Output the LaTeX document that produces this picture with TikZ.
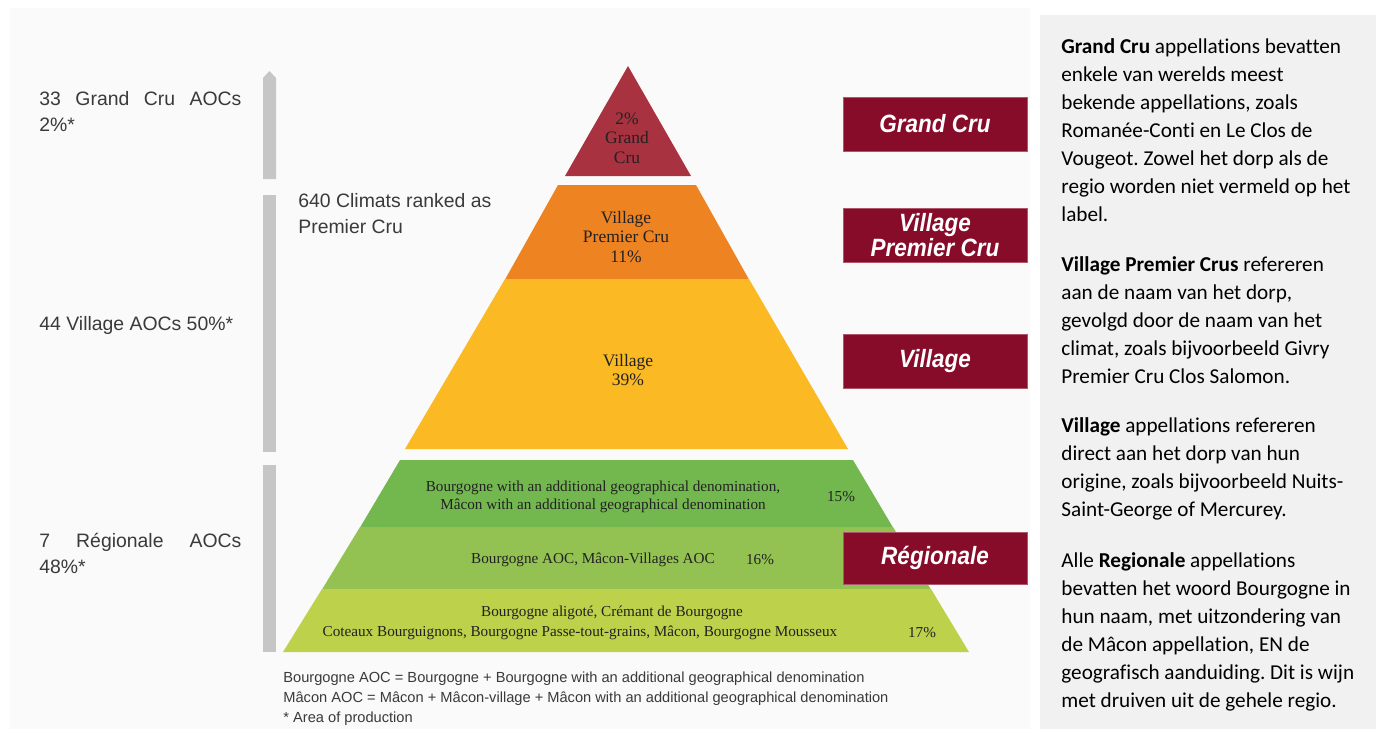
\documentclass[tikz,border=0pt]{standalone}
\usepackage{fontspec}
\usepackage{graphicx}
\setmainfont{Liberation Serif}
\newfontfamily\robf{Liberation Sans}
\newfontfamily\calf[Ligatures=NoCommon]{Carlito}
\frenchspacing
\definecolor{grandc}{HTML}{A8323F}
\definecolor{orangec}{HTML}{EE8322}
\definecolor{yellowc}{HTML}{FBB924}
\definecolor{greena}{HTML}{73B74F}
\definecolor{greenb}{HTML}{93C253}
\definecolor{greenc}{HTML}{BED14A}
\definecolor{maroon}{HTML}{860C2A}
\definecolor{maroonedge}{HTML}{B0566A}
\definecolor{barc}{HTML}{C6C6C6}
\definecolor{panelc}{HTML}{F1F1F1}
\definecolor{leftbg}{HTML}{FAFAFA}
\definecolor{lefttext}{HTML}{3A3A3A}
\definecolor{pyrtext}{HTML}{222222}
\newcommand\cond[1]{\scalebox{0.9}[1]{#1}}
\tikzset{
  lbl/.style={fill=maroon, draw=maroonedge, line width=0.5pt, minimum width=92pt,
    minimum height=27pt, inner sep=0pt, text=white, align=center,
    font=\robf\bfseries\itshape\fontsize{12.5}{12.5}\selectfont},
  lefttxt/.style={anchor=base west, inner sep=0pt, text=lefttext, align=left,
    font=\robf\fontsize{9.7}{13}\selectfont},
  pyrbig/.style={inner sep=0pt, text=pyrtext, align=center,
    font=\fontsize{8.75}{9.75}\selectfont},
  pyrsmall/.style={inner sep=0pt, text=pyrtext, align=center,
    font=\fontsize{7.6}{9}\selectfont},
  foot/.style={anchor=base west, inner sep=0pt, text=lefttext, align=left,
    font=\robf\fontsize{7.32}{10}\selectfont},
  para/.style={anchor=base west, inner sep=0pt, text=black, align=left,
    font=\calf\fontsize{10.6}{14}\selectfont\frenchspacing}
}
\begin{document}
\begin{tikzpicture}[x=0.5pt,y=-0.5pt]
\useasboundingbox (0,0) rectangle (1376,729);
\fill[white] (0,0) rectangle (1376,729);
\fill[leftbg] (10,8) rectangle (1030,729);
\fill[panelc] (1040,15) rectangle (1376,729);

% grey bars
\fill[barc] (263,179) -- (263,78) -- (269.5,71) -- (276,78) -- (276,179) -- cycle;
\fill[barc] (263,195) rectangle (276,452);
\fill[barc] (263,465) rectangle (276,652);

% pyramid layers
\fill[grandc] (628,66) -- (691,176) -- (565,176) -- cycle;
\fill[orangec] (558,185) -- (696,185) -- (749,279.5) -- (505,279.5) -- cycle;
\fill[yellowc] (505,279) -- (749,279) -- (848,449) -- (405,449) -- cycle;
\fill[greena] (400,460) -- (853,460) -- (893,527.5) -- (360,527.5) -- cycle;
\fill[greenb] (360,527) -- (893,527) -- (931,589.5) -- (322,589.5) -- cycle;
\fill[greenc] (322,589) -- (931,589) -- (969,652) -- (283,652) -- cycle;

% pyramid texts
\node[pyrbig] (tgc) at (627,138) {2\%\\Grand\\Cru};
\node[pyrbig] (tvpc) at (626,237) {Village\\Premier Cru\\11\%};
\node[pyrbig] (tv) at (628,370) {Village\\39\%};
\node[pyrsmall] (tr1) at (603,497) {Bourgogne with an additional geographical denomination,\\M\^acon with an additional geographical denomination};
\node[pyrsmall] (pr1) at (841,497) {15\%};
\node[pyrsmall] (tr2) at (593,560) {Bourgogne AOC, M\^acon-Villages AOC};
\node[pyrsmall] (pr2) at (760,560) {16\%};
\node[pyrsmall] (tr3a) at (612,613) {Bourgogne aligot\'e, Cr\'emant de Bourgogne};
\node[pyrsmall] (tr3b) at (580,633) {Coteaux Bourguignons, Bourgogne Passe-tout-grains, M\^acon, Bourgogne Mousseux};
\node[pyrsmall] (pr3) at (922,633) {17\%};

% left labels (anchor = baseline of the last line)
\node[lefttxt] (lgc) at (39,131) {\makebox[101pt][s]{33 Grand Cru AOCs}\\2\%*};
\node[lefttxt] (lpc) at (298,233) {640 Climats ranked as\\Premier Cru};
\node[lefttxt] (lv) at (39,330) {44 Village AOCs 50\%*};
\node[lefttxt] (lr) at (39,573) {\makebox[101pt][s]{7 R\'egionale AOCs}\\48\%*};

% footnotes
\node[foot] (fn) at (283,722) {Bourgogne AOC = Bourgogne + Bourgogne with an additional geographical denomination\\M\^acon AOC = M\^acon + M\^acon-village + M\^acon with an additional geographical denomination\\* Area of production};

% label boxes
\node[lbl] (bgc) at (935,124) {\cond{Grand Cru}};
\node[lbl] (bvpc) at (935,235) {\cond{Village}\\\cond{Premier Cru}};
\node[lbl] (bv) at (935,361) {\cond{Village}};
\node[lbl, minimum height=26pt] (br) at (935,558) {\cond{R\'egionale}};

% right panel text (anchor = baseline of the last line)
\node[para] (p1) at (1061,221) {\textbf{Grand Cru} appellations bevatten\\enkele van werelds meest\\bekende appellations, zoals\\Roman\'ee-Conti en Le Clos de\\Vougeot. Zowel het dorp als de\\regio worden niet vermeld op het\\label.};
\node[para] (p2) at (1061,383) {\textbf{Village Premier Crus} refereren\\aan de naam van het dorp,\\gevolgd door de naam van het\\climat, zoals bijvoorbeeld Givry\\Premier Cru Clos Salomon.};
\node[para] (p3) at (1061,516) {\textbf{Village} appellations refereren\\direct aan het dorp van hun\\origine, zoals bijvoorbeeld Nuits-\\Saint-George of Mercurey.};
\node[para] (p4) at (1061,707) {Alle \textbf{Regionale} appellations\\bevatten het woord Bourgogne in\\hun naam, met uitzondering van\\de M\^acon appellation, EN de\\geografisch aanduiding. Dit is wijn\\met druiven uit de gehele regio.};
\end{tikzpicture}
\end{document}
